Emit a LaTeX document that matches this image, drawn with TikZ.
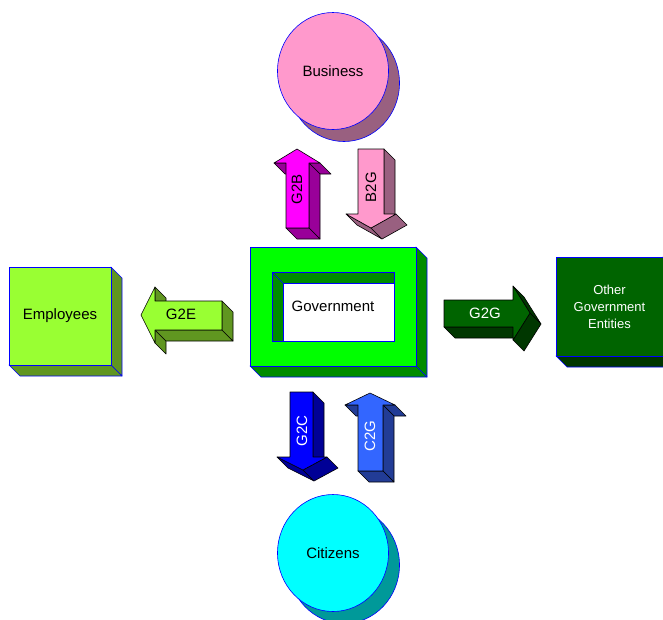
\documentclass[tikz,border=0pt]{standalone}
\usepackage{fontspec}
\setmainfont{Liberation Sans}
\usetikzlibrary{shapes.geometric}

\definecolor{pinkfront}{RGB}{255,153,204}
\definecolor{pinkside}{RGB}{153,96,128}
\definecolor{magfront}{RGB}{255,0,255}
\definecolor{magside}{RGB}{153,0,153}
\definecolor{govfront}{RGB}{0,255,0}
\definecolor{govside}{RGB}{0,140,0}
\definecolor{limefront}{RGB}{153,255,51}
\definecolor{limeside}{RGB}{96,150,32}
\definecolor{darkfront}{RGB}{0,100,0}
\definecolor{darkside}{RGB}{0,55,0}
\definecolor{bluefront}{RGB}{0,0,255}
\definecolor{blueside}{RGB}{0,0,150}
\definecolor{skyfront}{RGB}{51,102,255}
\definecolor{skyside}{RGB}{34,60,150}
\definecolor{cyanfront}{RGB}{0,255,255}
\definecolor{cyanside}{RGB}{0,153,153}

\tikzset{
    boxtext/.style={font=\fontsize{15}{18}\selectfont},
    smalltext/.style={font=\fontsize{13}{17}\selectfont},
    arrowtext/.style={font=\fontsize{15}{18}\selectfont, inner sep=0pt},
    disc/.style={ellipse, draw=blue, minimum width=111pt, minimum height=117pt, inner sep=0pt}
}

\newcommand{\sides}[2]{\foreach \a/\b in {#2} \filldraw[#1] (\a) -- (\b) -- ([shift={(11,11)}]\b) -- ([shift={(11,11)}]\a) -- cycle;}

\begin{document}
\begin{tikzpicture}[x=1pt, y=-1pt, line width=0.6pt, line join=round]

    \useasboundingbox (0,0) rectangle (663,619);

    \node[disc, fill=pinkside] at (344,83) {};
    \node[disc, fill=pinkfront, boxtext] (business) at (333,71) {Business};

    \sides{fill=magside}{{274,163}/{286,163}, {309,163}/{320,163}, {309,228}/{309,163}, {286,228}/{309,228}}
    \filldraw[fill=magfront] (286,228) -- (309,228) -- (309,163) -- (320,163) -- (297,149) -- (274,163) -- (286,163) -- cycle;
    \node[arrowtext, rotate=90] (g2b) at (297,189) {G2B};

    \sides{fill=pinkside}{{371,228}/{346,214}, {384,149}/{384,214}, {396,214}/{371,228}}
    \filldraw[fill=pinkfront] (358,149) -- (384,149) -- (384,214) -- (396,214) -- (371,228) -- (346,214) -- (358,214) -- cycle;
    \node[arrowtext, rotate=90] (b2g) at (371,187) {B2G};

    \sides{draw=blue, fill=govside}{{416,247}/{416,366}, {250,366}/{416,366}}
    \filldraw[draw=blue, fill=govfront, even odd rule] (250,247) rectangle (416,366) (272,272) rectangle (394,341);
    \filldraw[draw=blue, fill=govside] (272,272) -- (394,272) -- (394,283) -- (283,283) -- (283,341) -- (272,341) -- cycle;
    \draw[blue] (272,272) -- (283,283);
    \filldraw[draw=blue, fill=white] (283,283) rectangle (394,341);
    \node[boxtext] (government) at (333,306) {Government};

    \sides{draw=blue, fill=limeside}{{111,267}/{111,365}, {9,365}/{111,365}}
    \node[draw=blue, fill=limefront, minimum width=102pt, minimum height=98pt, boxtext] (employees) at (60,316) {Employees};

    \sides{fill=limeside}{{155,287}/{155,301}, {155,330}/{155,343}, {155,330}/{222,330}, {222,301}/{222,330}}
    \filldraw[fill=limefront] (141,315) -- (155,287) -- (155,301) -- (222,301) -- (222,330) -- (155,330) -- (155,343) -- cycle;
    \node[arrowtext] (g2e) at (181,314) {G2E};

    \sides{fill=darkside}{{444,327}/{513,327}, {513,286}/{530,313}, {530,313}/{513,340}}
    \filldraw[fill=darkfront] (444,300) -- (513,300) -- (513,286) -- (530,313) -- (513,340) -- (513,327) -- (444,327) -- cycle;
    \node[arrowtext, text=white] (g2g) at (485,313) {G2G};

    \sides{draw=blue, fill=darkside}{{663,257}/{663,356}, {556,356}/{663,356}}
    \node[draw=blue, fill=darkfront, minimum width=107pt, minimum height=99pt, smalltext, text=white, align=center] (others) at (609.5,306.5) {Other\\Government\\Entities};

    \sides{fill=blueside}{{303,470}/{277,457}, {313,392}/{313,457}, {327,457}/{303,470}}
    \filldraw[fill=bluefront] (290,392) -- (313,392) -- (313,457) -- (327,457) -- (303,470) -- (277,457) -- (290,457) -- cycle;
    \node[arrowtext, rotate=90, text=white] (g2c) at (302,431) {G2C};

    \sides{fill=skyside}{{345,405}/{358,405}, {383,405}/{395,405}, {383,471}/{383,405}, {358,471}/{383,471}}
    \filldraw[fill=skyfront] (358,471) -- (383,471) -- (383,405) -- (395,405) -- (370,393) -- (345,405) -- (358,405) -- cycle;
    \node[arrowtext, rotate=90, text=white] (c2g) at (370,436) {C2G};

    \node[disc, fill=cyanside] at (344,565) {};
    \node[disc, fill=cyanfront, boxtext] (citizens) at (333,553) {Citizens};

\end{tikzpicture}
\end{document}
